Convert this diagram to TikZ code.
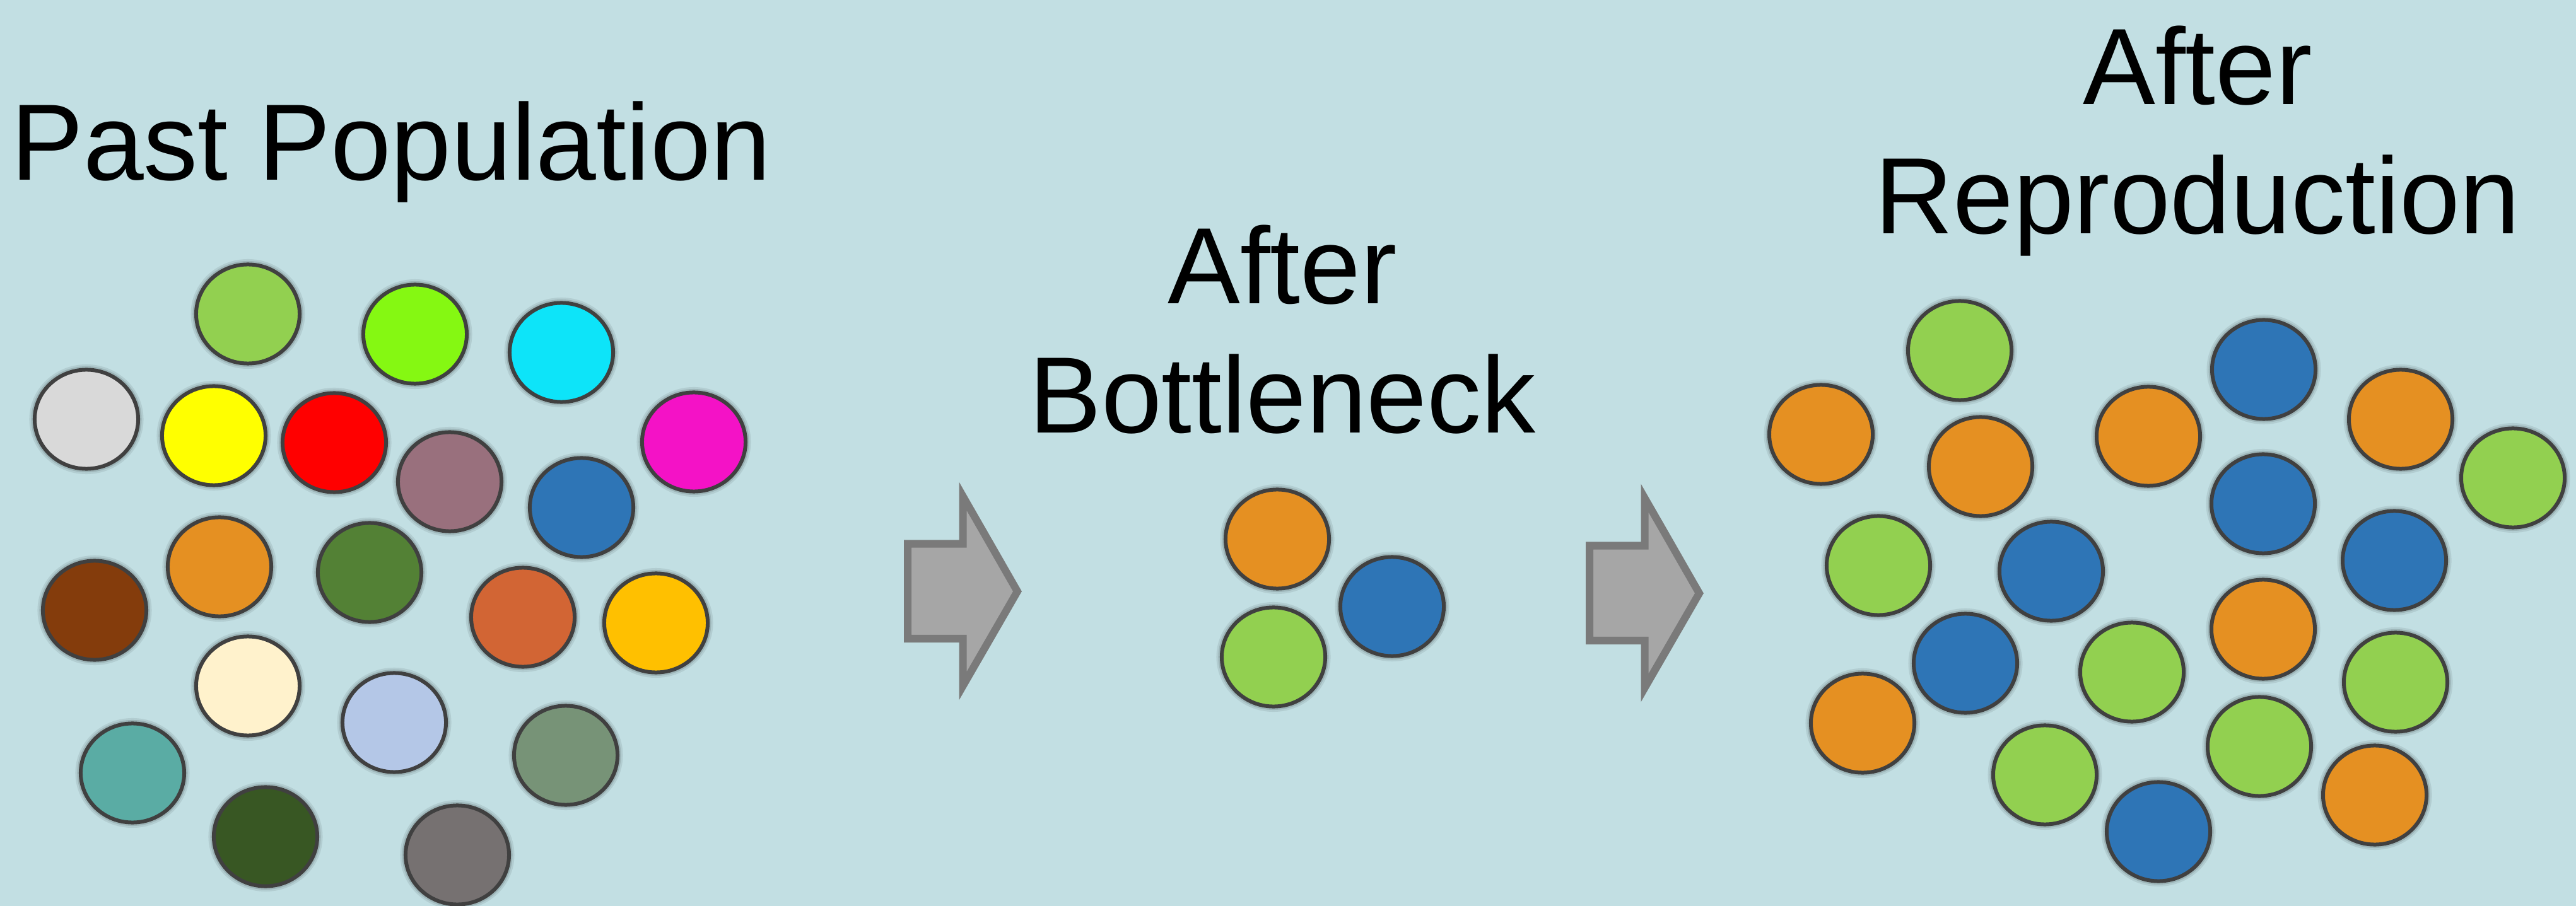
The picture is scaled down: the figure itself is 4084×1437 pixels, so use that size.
\documentclass[tikz,border=0pt]{standalone}
\usepackage{fontspec}
\setmainfont{Liberation Sans}
\usetikzlibrary{shapes.geometric}

\definecolor{bgc}{HTML}{C2DFE3}
\definecolor{rim}{HTML}{404040}
\definecolor{arrfill}{HTML}{A6A6A6}
\definecolor{arrline}{HTML}{7A7A7A}
% allele colours
\definecolor{cLgreen}{HTML}{92D050}
\definecolor{cLime}{HTML}{85F812}
\definecolor{cCyan}{HTML}{0DE4F9}
\definecolor{cLgray}{HTML}{D9D9D9}
\definecolor{cYellow}{HTML}{FFFF00}
\definecolor{cRed}{HTML}{FF0000}
\definecolor{cMauve}{HTML}{99707D}
\definecolor{cMagenta}{HTML}{F412C6}
\definecolor{cBlue}{HTML}{2E75B6}
\definecolor{cOrange}{HTML}{E59022}
\definecolor{cDkgreen}{HTML}{538135}
\definecolor{cBrown}{HTML}{843C0C}
\definecolor{cRust}{HTML}{D26534}
\definecolor{cAmber}{HTML}{FFC000}
\definecolor{cCream}{HTML}{FFF2CC}
\definecolor{cLavender}{HTML}{B4C7E7}
\definecolor{cTeal}{HTML}{5AACA4}
\definecolor{cSage}{HTML}{779377}
\definecolor{cForest}{HTML}{385723}
\definecolor{cGray}{HTML}{767171}

\tikzset{
  allele/.style={ellipse, draw=rim, line width=0.06cm, fill=#1,
    minimum width=1.64cm, minimum height=1.57cm, inner sep=0pt,
    preaction={draw=black, draw opacity=0.08, line width=0.17cm},
    preaction={draw=black, draw opacity=0.12, line width=0.11cm}},
  blockarrow/.style={fill=arrfill, draw=arrline, line width=0.12cm, line join=miter},
  title/.style={font=\fontsize{48.94}{58.3}\selectfont, text=black, inner sep=0pt, anchor=base}
}

\begin{document}
\begin{tikzpicture}[x=0.01cm, y=-0.01cm]
\fill[bgc] (0,0) rectangle (4084,1437);
\useasboundingbox (0,0) rectangle (4084,1437);

% headings
\node[title] (tPast) at (620,286) {Past Population};
\node[title] (tB1) at (2033,482) {After};
\node[title] (tB2) at (2033,687) {Bottleneck};
\node[title] (tR1) at (3484,166) {After};
\node[title] (tR2) at (3484,371) {Reproduction};

% past population: twenty alleles
\node[allele=cLgreen]   (p1)  at (393,498)  {};
\node[allele=cLime]     (p2)  at (658,530)  {};
\node[allele=cCyan]     (p3)  at (890,559)  {};
\node[allele=cLgray]    (p4)  at (137,665)  {};
\node[allele=cYellow]   (p5)  at (339,691)  {};
\node[allele=cRed]      (p6)  at (530,702)  {};
\node[allele=cMauve]    (p7)  at (713,764)  {};
\node[allele=cMagenta]  (p8)  at (1100,701) {};
\node[allele=cBlue]     (p9)  at (922,805)  {};
\node[allele=cOrange]   (p10) at (348,899)  {};
\node[allele=cDkgreen]  (p11) at (586,908)  {};
\node[allele=cBrown]    (p12) at (150,968)  {};
\node[allele=cRust]     (p13) at (829,979)  {};
\node[allele=cAmber]    (p14) at (1040,988) {};
\node[allele=cCream]    (p15) at (393,1088) {};
\node[allele=cLavender] (p16) at (625,1146) {};
\node[allele=cTeal]     (p17) at (210,1226) {};
\node[allele=cSage]     (p18) at (897,1198) {};
\node[allele=cForest]   (p19) at (421,1327) {};
\node[allele=cGray]     (p20) at (725,1356) {};

% block arrows
\draw[blockarrow] (1439,862.5) -- (1526.5,862.5) -- (1526.5,787) -- (1613,938)
  -- (1526.5,1088) -- (1526.5,1013) -- (1439,1013) -- cycle;
\draw[blockarrow] (2520,865.5) -- (2607.5,865.5) -- (2607.5,790) -- (2694,941)
  -- (2607.5,1091) -- (2607.5,1016) -- (2520,1016) -- cycle;

% after bottleneck
\node[allele=cOrange] (b1) at (2025,855)  {};
\node[allele=cBlue]   (b2) at (2207,962)  {};
\node[allele=cLgreen] (b3) at (2019,1042) {};

% after reproduction
\node[allele=cLgreen] (r1)  at (3107,556)  {};
\node[allele=cOrange] (r2)  at (2887,689)  {};
\node[allele=cOrange] (r3)  at (3140,740)  {};
\node[allele=cOrange] (r4)  at (3406,692)  {};
\node[allele=cBlue]   (r5)  at (3589,586)  {};
\node[allele=cOrange] (r6)  at (3806,665)  {};
\node[allele=cLgreen] (r7)  at (3984,758)  {};
\node[allele=cBlue]   (r8)  at (3588,799)  {};
\node[allele=cLgreen] (r9)  at (2978,897)  {};
\node[allele=cBlue]   (r10) at (3252,906)  {};
\node[allele=cBlue]   (r11) at (3796,889)  {};
\node[allele=cBlue]   (r12) at (3116,1052) {};
\node[allele=cLgreen] (r13) at (3380,1066) {};
\node[allele=cOrange] (r14) at (3588,998)  {};
\node[allele=cLgreen] (r15) at (3798,1082) {};
\node[allele=cOrange] (r16) at (2953,1147) {};
\node[allele=cLgreen] (r17) at (3242,1229) {};
\node[allele=cLgreen] (r18) at (3582,1184) {};
\node[allele=cBlue]   (r19) at (3422,1319) {};
\node[allele=cOrange] (r20) at (3765,1261) {};
\end{tikzpicture}
\end{document}
